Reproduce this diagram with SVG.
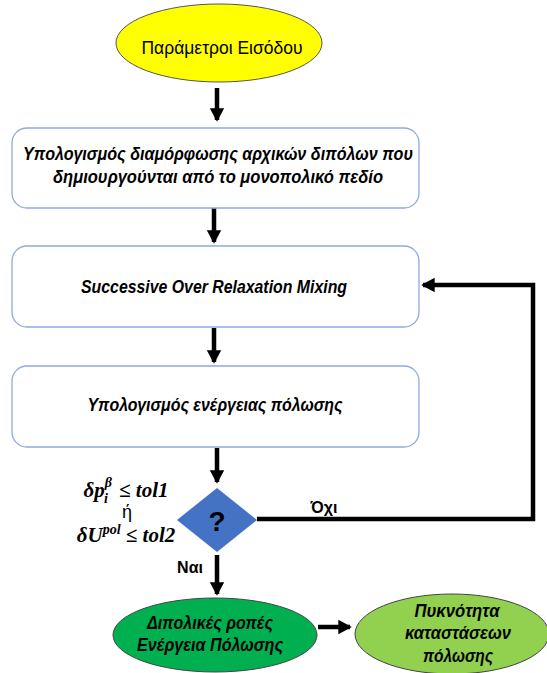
<svg xmlns="http://www.w3.org/2000/svg" width="547" height="673" viewBox="0 0 547 673">
<defs>
<style>
.box{fill:#fff;stroke:#8FAADC;stroke-width:1.3}
.t{font-family:"Liberation Sans",Arial,sans-serif;font-weight:bold;font-style:italic;font-size:17.5px;fill:#000;text-anchor:middle}
.u{font-family:"Liberation Sans",Arial,sans-serif;font-size:19px;fill:#000;text-anchor:middle}
.l{font-family:"Liberation Sans",Arial,sans-serif;font-size:16px;font-weight:bold;fill:#000;text-anchor:middle}
.m{font-family:"Liberation Serif","DejaVu Serif",serif;font-weight:bold;font-style:italic;font-size:21px;fill:#000;text-anchor:middle}
.c{fill:none;stroke:#000;stroke-width:4.5}
</style>
<marker id="ah" markerWidth="4" markerHeight="4" refX="2.6" refY="2" orient="auto" markerUnits="strokeWidth" viewBox="0 0 4 4">
<path d="M0,0.4 L3,2 L0,3.6 Z" fill="#000"/>
</marker>
</defs>
<g id="connectors">
<line class="c" x1="217" y1="88" x2="217" y2="120" marker-end="url(#ah)"/>
<line class="c" x1="214" y1="208" x2="214" y2="242" marker-end="url(#ah)"/>
<line class="c" x1="214" y1="328" x2="214" y2="362" marker-end="url(#ah)"/>
<line class="c" x1="217" y1="448" x2="217" y2="482" marker-end="url(#ah)"/>
<line class="c" x1="217" y1="555" x2="217" y2="594" marker-end="url(#ah)"/>
<polyline class="c" points="257,519 533,519 533,285 423,285" marker-end="url(#ah)"/>
<line class="c" x1="318" y1="627" x2="350" y2="627" marker-end="url(#ah)"/>
</g>
<g id="start">
<ellipse cx="219" cy="43" rx="103" ry="39" fill="#FFFF00" stroke="#555" stroke-width="1"/>
<text class="u" x="222" y="54" textLength="161" lengthAdjust="spacingAndGlyphs">Παράμετροι Εισόδου</text>
</g>
<g id="init">
<rect class="box" x="12" y="128" width="407" height="80" rx="15"/>
<text class="t" x="218" y="160" textLength="390" lengthAdjust="spacingAndGlyphs">Υπολογισμός διαμόρφωσης αρχικών διπόλων που</text>
<text class="t" x="218" y="183" textLength="330" lengthAdjust="spacingAndGlyphs">δημιουργούνται από το μονοπολικό πεδίο</text>
</g>
<g id="sor">
<rect class="box" x="12" y="246" width="407" height="81" rx="15"/>
<text class="t" x="214" y="293" textLength="266" lengthAdjust="spacingAndGlyphs">Successive Over Relaxation Mixing</text>
</g>
<g id="energy">
<rect class="box" x="12" y="366" width="407" height="81" rx="15"/>
<text class="t" x="215" y="411" textLength="255" lengthAdjust="spacingAndGlyphs">Υπολογισμός ενέργειας πόλωσης</text>
</g>
<g id="decision">
<polygon points="217,488 257,520 217,552 177,520" fill="#4472C4"/>
<text x="217" y="531" font-family="Liberation Sans,Arial,sans-serif" font-weight="bold" font-size="28" text-anchor="middle" fill="#000">?</text>
</g>
<g id="condition">
<text class="m" x="126" y="497">δp<tspan font-size="14" dy="-10">β</tspan><tspan font-size="14" dx="-8" dy="16">i</tspan><tspan dx="6" dy="-6"> ≤ tol1</tspan></text>
<text x="127" y="518" style="font-family:'Liberation Sans',Arial,sans-serif;font-size:18px;text-anchor:middle">ή</text>
<text class="m" x="126" y="542">δU<tspan font-size="14" dy="-8">pol</tspan><tspan dy="8"> ≤ tol2</tspan></text>
</g>
<g id="labels">
<text class="l" x="324" y="513">Όχι</text>
<text class="l" x="190" y="573">Ναι</text>
</g>
<g id="result">
<ellipse cx="215" cy="635" rx="102" ry="37" fill="#00B050" stroke="#444" stroke-width="1"/>
<text class="t" x="210" y="629" textLength="126" lengthAdjust="spacingAndGlyphs">Διπολικές ροπές</text>
<text class="t" x="210" y="651" textLength="146" lengthAdjust="spacingAndGlyphs">Ενέργεια Πόλωσης</text>
</g>
<g id="dos">
<ellipse cx="452" cy="634" rx="97" ry="40" fill="#92D050" stroke="#444" stroke-width="1"/>
<text class="t" x="457" y="617" textLength="85" lengthAdjust="spacingAndGlyphs">Πυκνότητα</text>
<text class="t" x="458" y="639" textLength="106" lengthAdjust="spacingAndGlyphs">καταστάσεων</text>
<text class="t" x="458" y="662" textLength="70" lengthAdjust="spacingAndGlyphs">πόλωσης</text>
</g>
</svg>
